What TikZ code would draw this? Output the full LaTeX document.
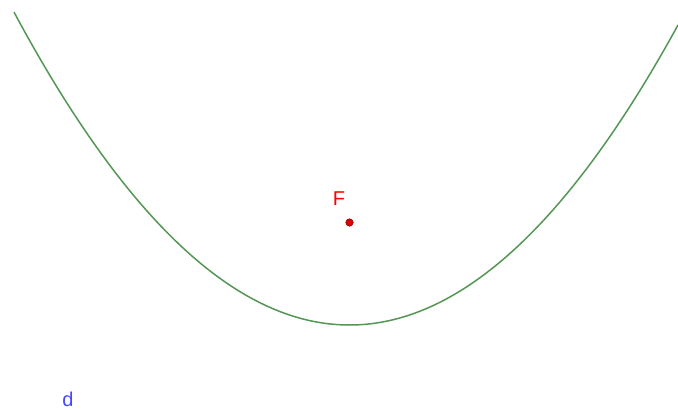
\documentclass[tikz,border=0pt]{standalone}
\usepackage{fontspec}
\setmainfont{Liberation Sans}
\definecolor{curvegreen}{RGB}{84,150,84}
\definecolor{ptred}{RGB}{220,0,0}
\definecolor{lblblue}{RGB}{70,70,255}
\tikzset{
  parab/.style={draw=curvegreen, line width=1.5pt},
  fpoint/.style={circle, fill=ptred, draw=ptred!60!black, line width=0.5pt, inner sep=0pt, minimum size=7.5pt},
  flabel/.style={text=red, font=\fontsize{20}{22}\selectfont, inner sep=0pt},
  dlabel/.style={text=lblblue, font=\fontsize{20}{22}\selectfont, inner sep=0pt}
}
\begin{document}
\begin{tikzpicture}[x=1pt,y=-1pt]
\useasboundingbox (0,0) rectangle (678,410);
\draw[parab] plot[domain=14:678, samples=150, smooth] (\x, {325 - 0.278*((\x-349.5)/10)^2});
\node[fpoint] (F) at (349.5,222.5) {};
\node[flabel] (Flbl) at (339,199) {F};
\node[dlabel] (dlbl) at (68,399) {d};
\end{tikzpicture}
\end{document}
